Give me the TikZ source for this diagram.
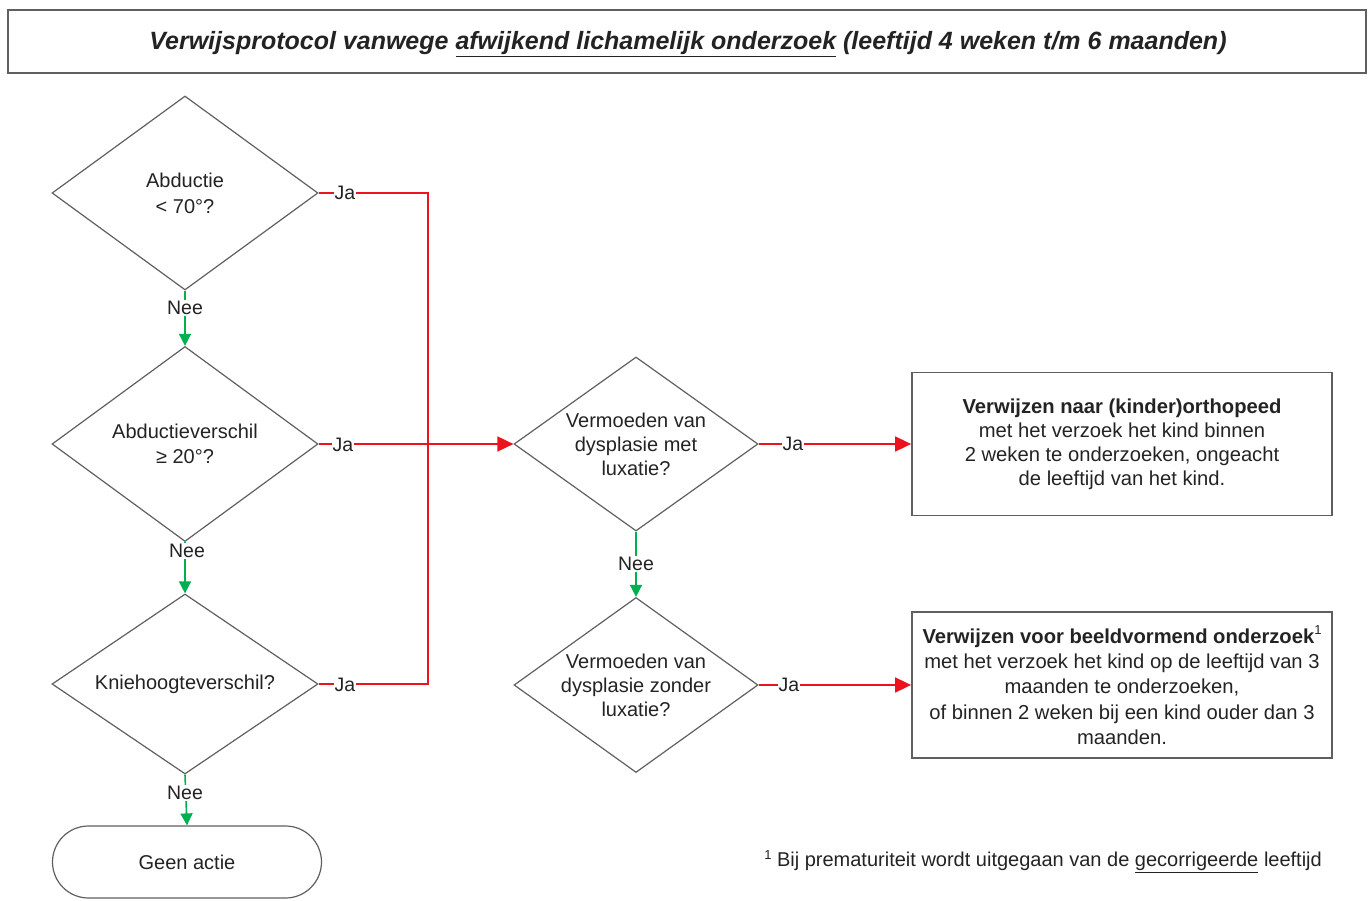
\documentclass[tikz,border=0pt]{standalone}
\usepackage{fontspec}
\setmainfont{Liberation Sans}
\usetikzlibrary{shapes.geometric,arrows.meta}
\definecolor{lnred}{RGB}{235,20,30}
\definecolor{lngreen}{RGB}{0,176,80}
\definecolor{edgegray}{RGB}{95,95,95}
\definecolor{txt}{RGB}{35,35,35}
\tikzset{
  every node/.style={text=txt},
  decision/.style={shape=diamond, draw=edgegray, line width=1.2pt, inner sep=-30pt, align=center,
     font=\fontsize{20}{25}\selectfont},
  actionbox/.style={draw=edgegray, line width=1.8pt, inner sep=0pt, align=center},
  terminal/.style={draw=edgegray, line width=1.2pt, rounded corners=36pt, inner sep=0pt,
     minimum width=269pt, minimum height=72pt, font=\fontsize{20}{24}\selectfont},
  lbl/.style={fill=white, inner sep=1pt, font=\fontsize{19.5}{21}\selectfont},
  yesline/.style={draw=lnred, line width=1.8pt},
  yesarrow/.style={yesline, -{Triangle[length=16pt,width=15pt]}},
  noarrow/.style={draw=lngreen, line width=1.6pt, -{Triangle[length=12pt,width=12pt]}},
}
\begin{document}
\begin{tikzpicture}[x=1pt,y=-1pt]
\useasboundingbox (0,0) rectangle (1372,901);
% title
\node[draw=edgegray, line width=1.8pt, minimum width=1358pt, minimum height=63pt, inner sep=0pt] (titlebox) at (687,41.5) {};
\node[inner sep=0pt, font=\fontsize{25}{27}\selectfont\bfseries\itshape] (title) at (688,44)
  {Verwijsprotocol vanwege \underline{afwijkend lichamelijk onderzoek} (leeftijd 4 weken t/m 6 maanden)};
% decisions
\node[decision, minimum width=266pt, minimum height=194pt, font=\fontsize{20}{26}\selectfont] (d1) at (185,193) {Abductie\\< 70°?};
\node[decision, minimum width=266pt, minimum height=195pt] (d2) at (185,444) {Abductieverschil\\≥ 20°?};
\node[decision, minimum width=266pt, minimum height=180pt] (d3) at (185,684) {Kniehoogteverschil?};
\node[terminal] (geen) at (187,862) {Geen actie};
\node[decision, minimum width=244pt, minimum height=174pt, font=\fontsize{20}{24}\selectfont] (d4) at (636,444) {Vermoeden van\\dysplasie met\\luxatie?};
\node[decision, minimum width=244pt, minimum height=175pt, font=\fontsize{20}{24}\selectfont] (d5) at (636,685) {Vermoeden van\\dysplasie zonder\\luxatie?};
% action boxes
\node[actionbox, minimum width=420pt, minimum height=143pt, font=\fontsize{20.2}{24}\selectfont] (b1) at (1122,444)
  {\textbf{Verwijzen naar (kinder)orthopeed}\\met het verzoek het kind binnen\\2 weken te onderzoeken, ongeacht\\de leeftijd van het kind.};
\node[actionbox, minimum width=420pt, minimum height=146pt, font=\fontsize{20.2}{25.2}\selectfont] (b2) at (1122,685)
  {\textbf{Verwijzen voor beeldvormend onderzoek}\raisebox{9pt}{\fontsize{13}{13}\selectfont 1}\\met het verzoek het kind op de leeftijd van 3\\maanden te onderzoeken,\\of binnen 2 weken bij een kind ouder dan 3\\maanden.};
% bus coordinates
\coordinate (bus1) at (428,193);
\coordinate (bus3) at (428,684);
% red connectors
\draw[yesline] (d1.east) -- (bus1) -- (bus3) -- (d3.east);
\draw[yesarrow] (d2.east) -- (d4.west);
\draw[yesarrow] (d4.east) -- (b1.west);
\draw[yesarrow] (d5.east) -- (b2.west);
% green connectors
\draw[noarrow] (d1.south) -- (d2.north);
\draw[noarrow] (d2.south) -- (d3.north);
\draw[noarrow] (d3.south) -- (geen.north);
\draw[noarrow] (d4.south) -- (d5.north);
% labels
\node[lbl] (ja1) at (345,193) {Ja};
\node[lbl] (ja2) at (343,445) {Ja};
\node[lbl] (ja3) at (345,685) {Ja};
\node[lbl] (ja4) at (793,444) {Ja};
\node[lbl] (ja5) at (789,685) {Ja};
\node[lbl] (nee1) at (185,308) {Nee};
\node[lbl] (nee2) at (187,551) {Nee};
\node[lbl] (nee3) at (185,793) {Nee};
\node[lbl] (nee4) at (636,564) {Nee};
% footnote
\node[anchor=east, inner sep=0pt, font=\fontsize{20}{22}\selectfont] (fn) at (1322,862)
  {\raisebox{7pt}{\fontsize{13}{13}\selectfont 1} Bij prematuriteit wordt uitgegaan van de \underline{gecorrigeerde} leeftijd};
\end{tikzpicture}
\end{document}
